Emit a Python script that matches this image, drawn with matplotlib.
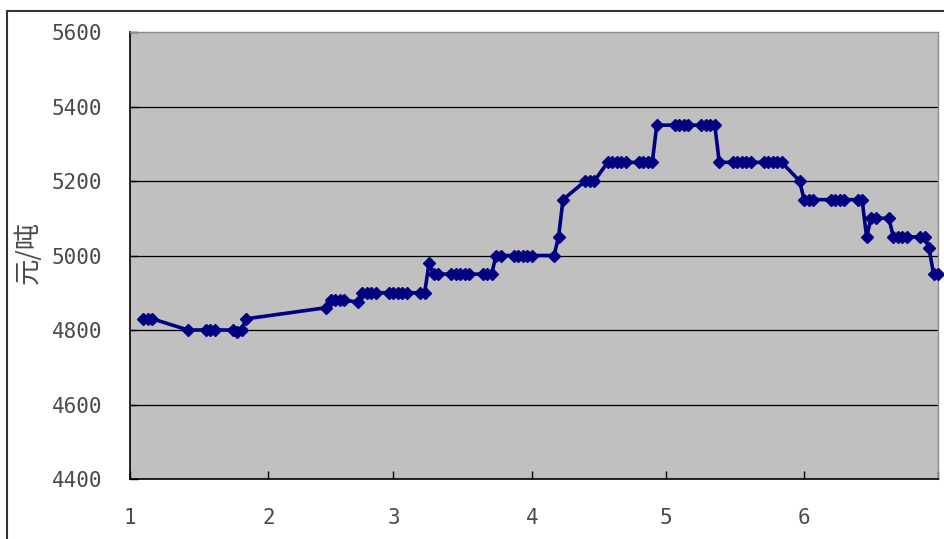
import matplotlib.pyplot as plt
import pandas as pd

plt.rcParams['font.family'] = ['Noto Sans CJK SC', 'DejaVu Sans']

# daily price, yuan per tonne
dates = [
    '2011-01-04', '2011-01-05', '2011-01-06', '2011-01-14', '2011-01-18',
    '2011-01-19', '2011-01-20', '2011-01-24', '2011-01-25', '2011-01-26',
    '2011-01-27', '2011-02-14', '2011-02-15', '2011-02-16', '2011-02-17',
    '2011-02-18', '2011-02-21', '2011-02-22', '2011-02-23', '2011-02-24',
    '2011-02-25', '2011-02-28', '2011-03-01', '2011-03-02', '2011-03-03',
    '2011-03-04', '2011-03-07', '2011-03-08', '2011-03-09', '2011-03-10',
    '2011-03-11', '2011-03-14', '2011-03-15', '2011-03-16', '2011-03-17',
    '2011-03-18', '2011-03-21', '2011-03-22', '2011-03-23', '2011-03-24',
    '2011-03-25', '2011-03-28', '2011-03-29', '2011-03-30', '2011-03-31',
    '2011-04-01', '2011-04-06', '2011-04-07', '2011-04-08', '2011-04-13',
    '2011-04-14', '2011-04-15', '2011-04-18', '2011-04-19', '2011-04-20',
    '2011-04-21', '2011-04-22', '2011-04-25', '2011-04-26', '2011-04-27',
    '2011-04-28', '2011-04-29', '2011-05-03', '2011-05-04', '2011-05-05',
    '2011-05-06', '2011-05-09', '2011-05-10', '2011-05-11', '2011-05-12',
    '2011-05-13', '2011-05-16', '2011-05-17', '2011-05-18', '2011-05-19',
    '2011-05-20', '2011-05-23', '2011-05-24', '2011-05-25', '2011-05-26',
    '2011-05-27', '2011-05-31', '2011-06-01', '2011-06-02', '2011-06-03',
    '2011-06-07', '2011-06-08', '2011-06-09', '2011-06-10', '2011-06-13',
    '2011-06-14', '2011-06-15', '2011-06-16', '2011-06-17', '2011-06-20',
    '2011-06-21', '2011-06-22', '2011-06-23', '2011-06-24', '2011-06-27',
    '2011-06-28', '2011-06-29', '2011-06-30', '2011-07-01',
]
prices = [
    4830, 4830, 4830, 4800, 4800,
    4800, 4800, 4800, 4795, 4800,
    4830, 4860, 4880, 4880, 4880,
    4880, 4875, 4900, 4900, 4900,
    4900, 4900, 4900, 4900, 4900,
    4900, 4900, 4900, 4980, 4950,
    4950, 4950, 4950, 4950, 4950,
    4950, 4950, 4950, 4950, 5000,
    5000, 5000, 5000, 5000, 5000,
    5000, 5000, 5050, 5150, 5200,
    5200, 5200, 5250, 5250, 5250,
    5250, 5250, 5250, 5250, 5250,
    5250, 5350, 5350, 5350, 5350,
    5350, 5350, 5350, 5350, 5350,
    5250, 5250, 5250, 5250, 5250,
    5250, 5250, 5250, 5250, 5250,
    5250, 5200, 5150, 5150, 5150,
    5150, 5150, 5150, 5150, 5150,
    5150, 5050, 5100, 5100, 5100,
    5050, 5050, 5050, 5050, 5050,
    5050, 5020, 4950, 4950,
]

month_starts = ['2011-01-01', '2011-02-01', '2011-03-01', '2011-04-01',
                '2011-05-01', '2011-06-01', '2011-07-01']
month_labels = ['1', '2', '3', '4', '5', '6', '']
y_ticks = [4400, 4600, 4800, 5000, 5200, 5400, 5600]

W, H = 944, 539
fig = plt.figure(figsize=(W / 100, H / 100), dpi=100)
ax = fig.add_axes([130 / W, 1 - 479 / H, 808 / W, 447 / H])
ax.set_facecolor('#c0c0c0')

for v in y_ticks[1:-1]:
    ax.axhline(v, color='black', lw=0.9, zorder=1)

x = pd.to_datetime(dates)
ax.plot(x, prices, color='#000080', lw=2.6, marker='D', ms=5.8,
        mec='#000080', mfc='#000080', clip_on=False, zorder=3)

ax.set_xlim(pd.Timestamp(month_starts[0]), pd.Timestamp(month_starts[-1]))
ax.set_ylim(y_ticks[0], y_ticks[-1])
ax.set_xticks(pd.to_datetime(month_starts))
ax.set_xticklabels(month_labels)
ax.set_yticks(y_ticks)

ax.tick_params(axis='x', direction='in', length=6, width=1, color='black',
               pad=21, labelsize=15, labelcolor='#4a4a4a')
ax.tick_params(axis='y', direction='in', length=6, width=1, color='black',
               pad=20, labelsize=15, labelcolor='#4a4a4a')
for lab in ax.get_xticklabels() + ax.get_yticklabels():
    lab.set_fontfamily('DejaVu Sans Mono')

for side in ['left', 'bottom']:
    ax.spines[side].set_color('black')
    ax.spines[side].set_linewidth(1.2)
for side in ['top', 'right']:
    ax.spines[side].set_color('#8c8c8c')
    ax.spines[side].set_linewidth(1.0)

fig.text(28 / W, 1 - 252 / H, '元/吨', rotation=90, ha='center', va='center',
         fontsize=19, color='#4a4a4a')

# chart frame, running off the right and bottom edges
fig.add_artist(plt.Rectangle((7 / W, -0.05), 1.1, 1 - 11 / H + 0.05,
                             transform=fig.transFigure, fill=False,
                             ec='#333333', lw=1.5))

fig.savefig('out.png', dpi=100)
